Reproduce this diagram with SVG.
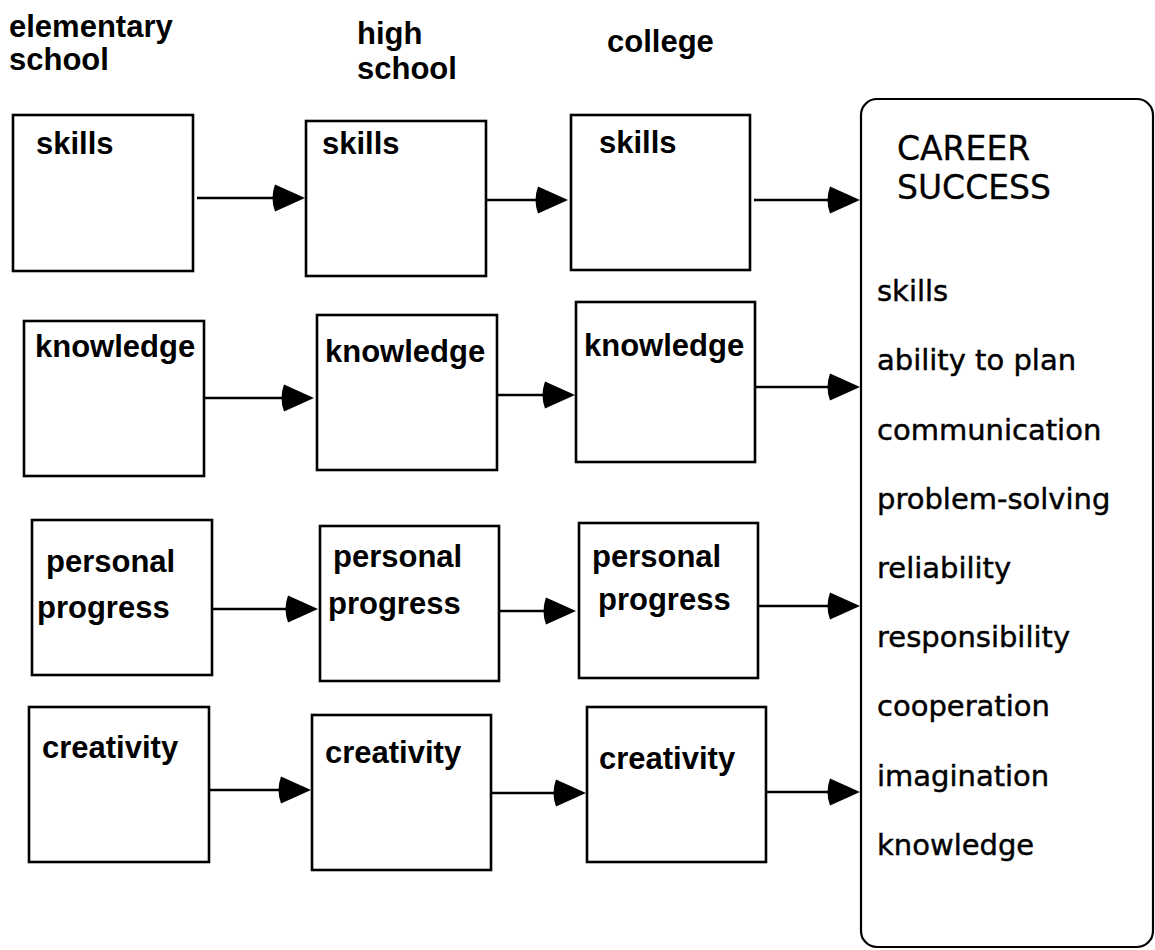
<svg xmlns="http://www.w3.org/2000/svg" width="1155" height="950" viewBox="0 0 1155 950">
<style>
.box{fill:#fff;stroke:#000;stroke-width:2.6}
.lbl{font-family:"Liberation Sans",Arial,sans-serif;font-weight:bold;font-size:31px;fill:#000}
.hdr{font-family:"Liberation Sans",Arial,sans-serif;font-weight:bold;font-size:31px;fill:#000}
.item{font-family:"DejaVu Sans",Verdana,sans-serif;font-size:29px;fill:#000;stroke:#000;stroke-width:0.45}
.title{font-family:"DejaVu Sans",Verdana,sans-serif;font-size:33px;fill:#000;stroke:#000;stroke-width:0.3}
.conn{stroke:#000;stroke-width:2.3;fill:none;marker-end:url(#head)}
</style>
<defs>
<marker id="head" markerUnits="userSpaceOnUse" viewBox="0 0 34 28" refX="12" refY="14" markerWidth="34" markerHeight="28" orient="auto" overflow="visible">
<path d="M33,14 L3,0.5 Q-2,14 3,27.5 Z" fill="#000"/>
</marker>
</defs>
<rect width="1155" height="950" fill="#fff"/>
<g id="headers">
<text class="hdr" x="9" y="37">elementary</text>
<text class="hdr" x="9" y="70">school</text>
<text class="hdr" x="357" y="44">high</text>
<text class="hdr" x="357" y="79">school</text>
<text class="hdr" x="607" y="52">college</text>
</g>
<g id="connectors">
<line class="conn" x1="197" y1="198" x2="284" y2="198"/>
<line class="conn" x1="486" y1="200" x2="547" y2="200"/>
<line class="conn" x1="754" y1="200" x2="839" y2="200"/>
<line class="conn" x1="204" y1="398" x2="293" y2="398"/>
<line class="conn" x1="497" y1="395" x2="554" y2="395"/>
<line class="conn" x1="755" y1="387" x2="839" y2="387"/>
<line class="conn" x1="213" y1="609" x2="297" y2="609"/>
<line class="conn" x1="499" y1="611" x2="555" y2="611"/>
<line class="conn" x1="758" y1="606" x2="839" y2="606"/>
<line class="conn" x1="205" y1="790" x2="290" y2="790"/>
<line class="conn" x1="487" y1="793" x2="565" y2="793"/>
<line class="conn" x1="766" y1="792" x2="839" y2="792"/>
</g>
<g id="elem-skills"><rect class="box" x="13" y="115" width="180" height="156"/><text class="lbl" x="36" y="154">skills</text></g>
<g id="high-skills"><rect class="box" x="306" y="121" width="180" height="155"/><text class="lbl" x="322" y="154">skills</text></g>
<g id="college-skills"><rect class="box" x="571" y="115" width="179" height="155"/><text class="lbl" x="599" y="153">skills</text></g>
<g id="elem-knowledge"><rect class="box" x="24" y="321" width="180" height="155"/><text class="lbl" x="35" y="357">knowledge</text></g>
<g id="high-knowledge"><rect class="box" x="317" y="315" width="180" height="155"/><text class="lbl" x="325" y="362">knowledge</text></g>
<g id="college-knowledge"><rect class="box" x="576" y="302" width="179" height="160"/><text class="lbl" x="584" y="356">knowledge</text></g>
<g id="elem-progress"><rect class="box" x="32" y="520" width="180" height="155"/><text class="lbl" x="46" y="572">personal</text><text class="lbl" x="37" y="618">progress</text></g>
<g id="high-progress"><rect class="box" x="320" y="526" width="179" height="155"/><text class="lbl" x="333" y="567">personal</text><text class="lbl" x="328" y="614">progress</text></g>
<g id="college-progress"><rect class="box" x="579" y="523" width="179" height="155"/><text class="lbl" x="592" y="567">personal</text><text class="lbl" x="598" y="610">progress</text></g>
<g id="elem-creativity"><rect class="box" x="29" y="707" width="180" height="155"/><text class="lbl" x="42" y="758">creativity</text></g>
<g id="high-creativity"><rect class="box" x="312" y="715" width="179" height="155"/><text class="lbl" x="325" y="763">creativity</text></g>
<g id="college-creativity"><rect class="box" x="587" y="707" width="179" height="155"/><text class="lbl" x="599" y="769">creativity</text></g>
<g id="career-success">
<rect x="861" y="99" width="292" height="848" rx="16" fill="#fff" stroke="#000" stroke-width="2.2"/>
<text class="title" x="897" y="160">CAREER</text>
<text class="title" x="897" y="199">SUCCESS</text>
<text class="item" x="877" y="301">skills</text>
<text class="item" x="877" y="370">ability to plan</text>
<text class="item" x="877" y="440">communication</text>
<text class="item" x="877" y="509">problem-solving</text>
<text class="item" x="877" y="578">reliability</text>
<text class="item" x="877" y="647">responsibility</text>
<text class="item" x="877" y="716">cooperation</text>
<text class="item" x="877" y="786">imagination</text>
<text class="item" x="877" y="855">knowledge</text>
</g>
</svg>
